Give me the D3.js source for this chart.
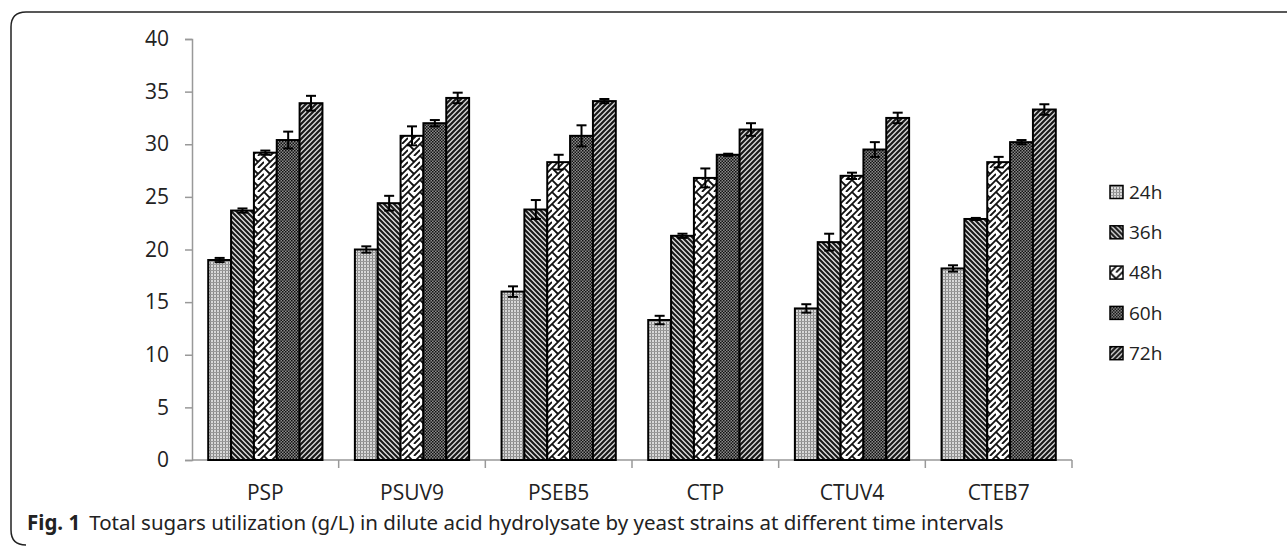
<!DOCTYPE html>
<html>
<head>
<meta charset="utf-8">
<script src="https://cdn.jsdelivr.net/npm/d3@7"></script>
<style>
  body { margin: 0; background: #fff; }
  svg { display: block; font-family: 'Open Sans', 'Noto Sans', sans-serif; }
</style>
</head>
<body>
<div id="chart"></div>
<script>
// categories and series
const strains = ['PSP', 'PSUV9', 'PSEB5', 'CTP', 'CTUV4', 'CTEB7'];
const times = ['24h', '36h', '48h', '60h', '72h'];
const values = {
  '24h': [19.0, 20.0, 16.0, 13.3, 14.4, 18.2],
  '36h': [23.7, 24.4, 23.8, 21.3, 20.7, 22.9],
  '48h': [29.2, 30.8, 28.3, 26.8, 27.0, 28.3],
  '60h': [30.4, 32.0, 30.8, 29.0, 29.5, 30.2],
  '72h': [33.9, 34.4, 34.1, 31.4, 32.5, 33.3]
};
const errors = {
  '24h': [0.2, 0.3, 0.5, 0.4, 0.4, 0.3],
  '36h': [0.2, 0.7, 0.9, 0.2, 0.8, 0.1],
  '48h': [0.2, 0.9, 0.7, 0.9, 0.3, 0.5],
  '60h': [0.8, 0.3, 1.0, 0.1, 0.7, 0.2],
  '72h': [0.7, 0.5, 0.2, 0.6, 0.5, 0.5]
};
const yTicks = [0, 5, 10, 15, 20, 25, 30, 35, 40];

const W = 1287, H = 546;
const plot = { left: 192, right: 1072, top: 39, bottom: 460 };

const svg = d3.select('#chart').append('svg').attr('width', W).attr('height', H);
const defs = svg.append('defs');

// fill patterns, one per time point
function pat(id, size, draw, bg) {
  const p = defs.append('pattern').attr('id', id).attr('patternUnits', 'userSpaceOnUse')
    .attr('width', size).attr('height', size);
  p.append('rect').attr('width', size).attr('height', size).attr('fill', bg);
  draw(p);
}
pat('p24', 3, p => {
  p.append('rect').attr('width', 1).attr('height', 3).attr('fill', '#888');
  p.append('rect').attr('width', 3).attr('height', 1).attr('fill', '#999');
}, '#d8d8d8');
pat('p36', 5, p => {
  p.append('path').attr('d', 'M-1,-1 L6,6 M-1,4 L1,6 M4,-1 L6,1').attr('stroke', '#1a1a1a').attr('stroke-width', 2.2);
}, '#e0e0e0');
pat('p48', 12, p => {
  p.append('path').attr('d', 'M0,12 L12,0 M-3,3 L3,-3 M9,15 L15,9 M0,0 L6,6 M6,12 L12,6')
    .attr('stroke', '#111').attr('stroke-width', 1.8).attr('fill', 'none');
}, '#fff');
pat('p60', 3, p => {
  p.append('rect').attr('width', 1.5).attr('height', 1.5).attr('fill', '#111');
  p.append('rect').attr('x', 1.5).attr('y', 1.5).attr('width', 1.5).attr('height', 1.5).attr('fill', '#111');
}, '#8a8a8a');
pat('p72', 5, p => {
  p.append('path').attr('d', 'M-1,6 L6,-1 M-1,1 L1,-1 M4,6 L6,4').attr('stroke', '#1a1a1a').attr('stroke-width', 2.2);
}, '#d8d8d8');
const fills = { '24h': 'url(#p24)', '36h': 'url(#p36)', '48h': 'url(#p48)', '60h': 'url(#p60)', '72h': 'url(#p72)' };

// outer frame (left and top, rounded corners)
svg.append('path')
  .attr('d', `M${W},12 L26,12 Q11,12 11,27 L11,530 Q11,545 26,545`)
  .attr('fill', 'none').attr('stroke', '#222').attr('stroke-width', 1.5);

const x0 = d3.scaleBand().domain(strains).range([plot.left, plot.right]).paddingInner(0).paddingOuter(0);
const x1 = d3.scaleBand().domain(times).range([0, x0.bandwidth()]).paddingOuter(0.71).paddingInner(0);
const y = d3.scaleLinear().domain([0, 40]).range([plot.bottom, plot.top]);

// y axis
const yAxis = svg.append('g').attr('transform', `translate(${plot.left},0)`)
  .call(d3.axisLeft(y).tickValues(yTicks).tickSize(7).tickPadding(16));
yAxis.select('.domain').attr('stroke', '#999').attr('stroke-width', 1.5);
yAxis.selectAll('.tick line').attr('stroke', '#999').attr('stroke-width', 1.5);
yAxis.selectAll('text').attr('font-size', 21).attr('fill', '#222').attr('font-family', 'Open Sans, sans-serif');

// x axis with category boundary ticks
const xg = svg.append('g');
xg.append('line').attr('x1', plot.left).attr('x2', plot.right).attr('y1', y(0)).attr('y2', y(0))
  .attr('stroke', '#999').attr('stroke-width', 1.5);
xg.selectAll('.bt').data(strains.slice(1).concat(['end'])).enter().append('line')
  .attr('x1', d => d === 'end' ? plot.right : x0(d)).attr('x2', d => d === 'end' ? plot.right : x0(d))
  .attr('y1', y(0)).attr('y2', y(0) + 8).attr('stroke', '#999').attr('stroke-width', 1.5);
xg.selectAll('.cl').data(strains).enter().append('text')
  .attr('x', d => x0(d) + x0.bandwidth() / 2).attr('y', 500)
  .attr('text-anchor', 'middle').attr('font-size', 21).attr('fill', '#222')
  .text(d => d);

// bars
const data = [];
strains.forEach((s, i) => times.forEach(t => data.push({ s, t, v: values[t][i], e: errors[t][i] })));
const bars = svg.append('g').selectAll('g.bar').data(data).enter().append('g').attr('class', 'bar');
bars.append('rect')
  .attr('x', d => x0(d.s) + x1(d.t))
  .attr('y', d => y(d.v))
  .attr('width', x1.bandwidth())
  .attr('height', d => y(0) - y(d.v))
  .attr('fill', d => fills[d.t])
  .attr('stroke', '#000').attr('stroke-width', 2);

// error bars
const eb = bars.append('g').attr('stroke', '#000').attr('stroke-width', 2);
eb.append('line')
  .attr('x1', d => x0(d.s) + x1(d.t) + x1.bandwidth() / 2)
  .attr('x2', d => x0(d.s) + x1(d.t) + x1.bandwidth() / 2)
  .attr('y1', d => y(d.v + d.e)).attr('y2', d => y(d.v - d.e));
['+', '-'].forEach(sign => {
  eb.append('line')
    .attr('x1', d => x0(d.s) + x1(d.t) + x1.bandwidth() / 2 - 5)
    .attr('x2', d => x0(d.s) + x1(d.t) + x1.bandwidth() / 2 + 5)
    .attr('y1', d => y(sign === '+' ? d.v + d.e : d.v - d.e))
    .attr('y2', d => y(sign === '+' ? d.v + d.e : d.v - d.e));
});

// legend
const lg = svg.append('g').attr('transform', 'translate(1110,192)');
const li = lg.selectAll('g').data(times).enter().append('g')
  .attr('transform', (d, i) => `translate(0,${i * 40.3})`);
li.append('rect').attr('x', 0).attr('y', -6.5).attr('width', 13).attr('height', 13)
  .attr('fill', d => fills[d]).attr('stroke', '#000').attr('stroke-width', 1.5);
li.append('text').attr('x', 19).attr('y', 0).attr('dy', '0.35em')
  .attr('font-size', 19).attr('fill', '#222').text(d => d);

// caption
const cap = svg.append('text').attr('x', 27).attr('y', 530).attr('font-size', 20.5)
  .attr('font-family', 'Noto Sans, sans-serif').attr('fill', '#222');
cap.append('tspan').attr('font-weight', 'bold').text('Fig. 1');
cap.append('tspan').attr('dx', 9).text('Total sugars utilization (g/L) in dilute acid hydrolysate by yeast strains at different time intervals');
</script>
</body>
</html>
